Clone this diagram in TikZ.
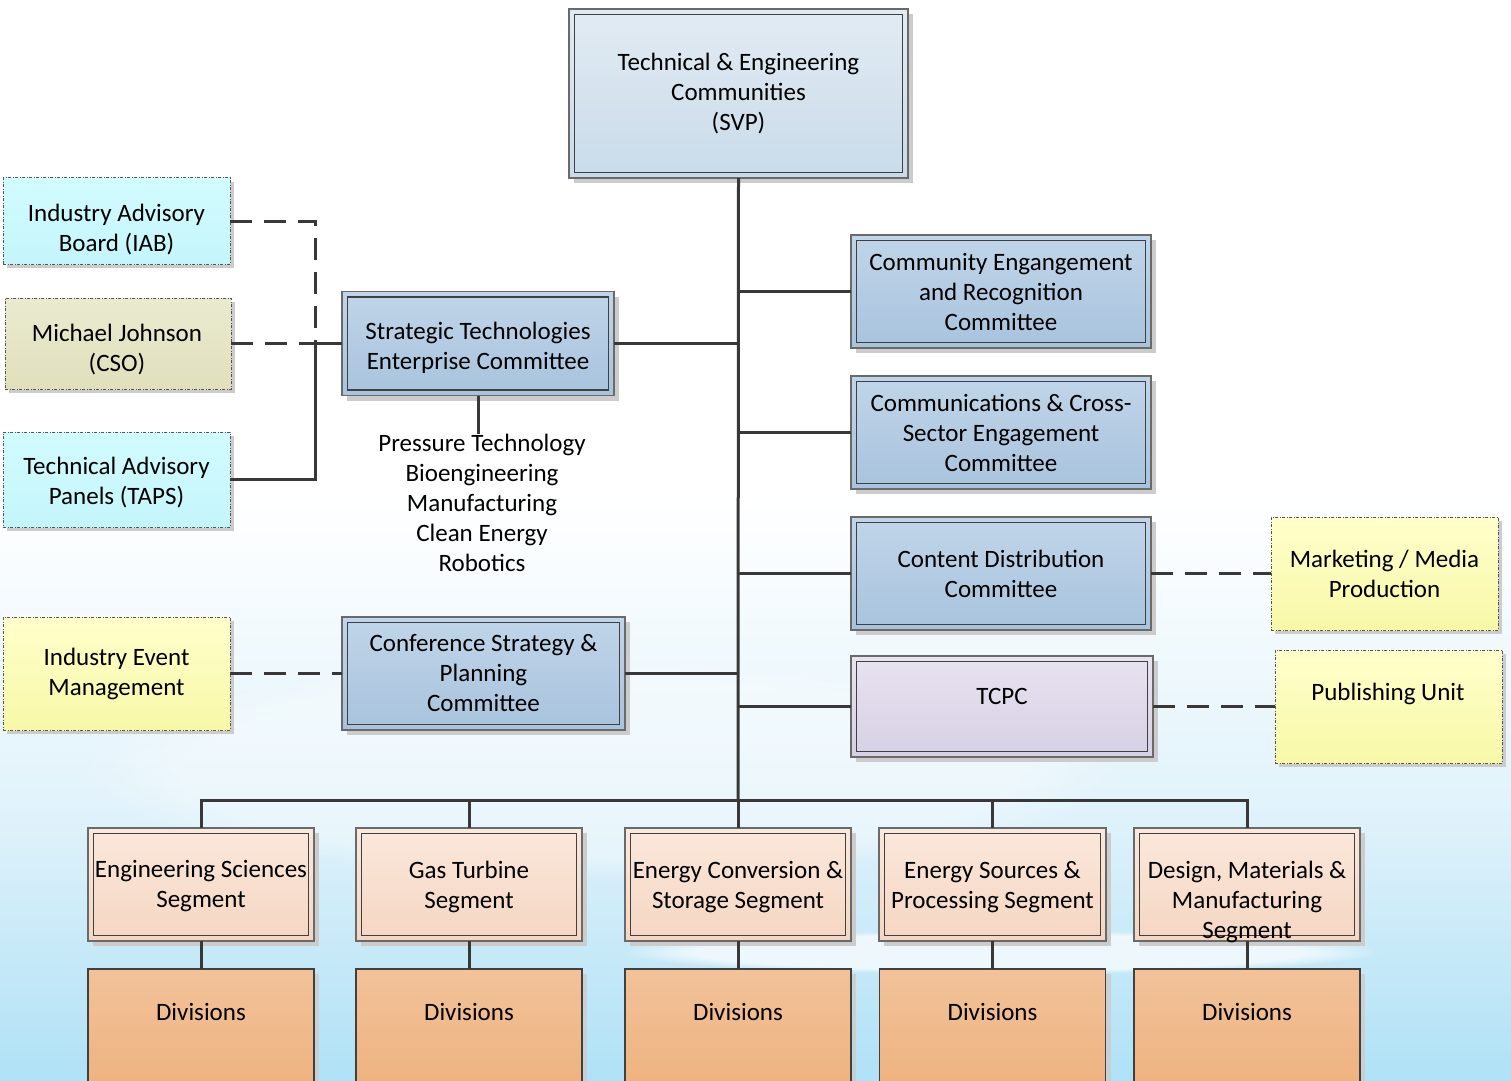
\documentclass[tikz,border=0pt]{standalone}
\usepackage{fontspec}
\setmainfont{Carlito}
\usetikzlibrary{shadows,fadings}
\definecolor{linec}{HTML}{383838}
\definecolor{outerc}{HTML}{6A6A6A}
\definecolor{innerc}{HTML}{404040}
\definecolor{shadowc}{HTML}{CCCCCC}
\definecolor{dashc}{HTML}{555555}
\definecolor{svpT}{HTML}{E2EBF3}
\definecolor{svpB}{HTML}{C9DBEA}
\definecolor{blueT}{HTML}{C0D5E9}
\definecolor{blueB}{HTML}{A8C3DD}
\definecolor{lavT}{HTML}{E8E3F0}
\definecolor{lavB}{HTML}{D6D0E5}
\definecolor{cyanT}{HTML}{D2FCFF}
\definecolor{cyanB}{HTML}{C4F5FB}
\definecolor{khakiT}{HTML}{EAEAD0}
\definecolor{khakiB}{HTML}{E0E0BC}
\definecolor{yelT}{HTML}{FFFFCC}
\definecolor{yelB}{HTML}{F8F8A8}
\definecolor{peachT}{HTML}{FBE8DC}
\definecolor{peachB}{HTML}{F5D6C2}
\definecolor{divT}{HTML}{F2C29A}
\definecolor{divB}{HTML}{EDAE78}
\definecolor{skyA}{HTML}{55C4F0}
\definecolor{skyB}{HTML}{9CDAF4}
\definecolor{skyC}{HTML}{E2F3FB}
\pgfdeclareverticalshading{sky}{100bp}{color(0bp)=(skyA); color(20bp)=(skyB); color(38bp)=(skyC); color(52bp)=(white); color(100bp)=(white)}
\begin{document}
\begin{tikzpicture}[x=0.5pt,y=-0.5pt,
  font=\fontsize{12.5}{15}\selectfont,
  conn/.style={draw=linec, line width=1.5pt},
  dconn/.style={conn, dash pattern=on 11pt off 6pt},
  sz/.style 2 args={minimum width=#1*0.5pt, minimum height=#2*0.5pt},
  base/.style={inner sep=0pt, outer sep=0pt, align=center},
  txt/.style={base},
  dblbox/.style={base, draw=outerc, line width=0.6pt,
    drop shadow={shadow xshift=2.5pt,shadow yshift=-2.5pt,fill=shadowc,opacity=1},
    path picture={\draw[draw=innerc, line width=0.8pt]
      ([shift={(2.8pt,-2.8pt)}]path picture bounding box.north west) rectangle
      ([shift={(-2.8pt,2.8pt)}]path picture bounding box.south east);}},
  svpbox/.style={dblbox, top color=svpT, bottom color=svpB},
  bluebox/.style={dblbox, top color=blueT, bottom color=blueB},
  lavbox/.style={dblbox, top color=lavT, bottom color=lavB},
  segbox/.style={dblbox, top color=peachT, bottom color=peachB},
  divbox/.style={base, draw=innerc, line width=0.7pt, top color=divT, bottom color=divB,
    drop shadow={shadow xshift=2.5pt,shadow yshift=-2.5pt,fill=shadowc,opacity=0.8}},
  dashbox/.style={base, draw=dashc, line width=0.5pt,
    dash pattern=on 1.5pt off 0.8pt on 0.4pt off 0.8pt,
    drop shadow={shadow xshift=2pt,shadow yshift=-2pt,fill=shadowc,opacity=1}},
  cyanbox/.style={dashbox, top color=cyanT, bottom color=cyanB},
  khakibox/.style={dashbox, top color=khakiT, bottom color=khakiB},
  yelbox/.style={dashbox, top color=yelT, bottom color=yelB}
]
\useasboundingbox (0,0) rectangle (1511,1081);
\clip (0,0) rectangle (1511,1081);
% background sky
\shade[shading=sky] (0,0) rectangle (1511,1081);
\fill[white, opacity=0.7, path fading=circle with fuzzy edge 20 percent] (1000,952) ellipse (380 and 22);
\fill[white, opacity=0.35, path fading=circle with fuzzy edge 20 percent] (600,770) ellipse (520 and 110);

% top
\node[svpbox, sz={339}{169}] (svp) at (738.5,93.5) {Technical \& Engineering\\Communities\\(SVP)};

% right committees
\node[bluebox, sz={300}{113}] (ce) at (1001,291.5) {Community Engangement\\and Recognition\\Committee};
\node[bluebox, sz={300}{113}] (comm) at (1001,432.5) {Communications \& Cross-\\Sector Engagement\\Committee};
\node[bluebox, sz={300}{113}] (cd) at (1001,573.5) {Content Distribution\\Committee};
\node[lavbox, sz={302}{101}] (tcpc) at (1002,706.5) {};
\node[txt] (tcpct) at (1002,696) {TCPC};

% left committees
\node[bluebox, sz={272}{104}] (ste) at (478,343.5) {};
\node[txt] (stet) at (478,348) {Strategic Technologies\\Enterprise Committee};
\node[txt] (tlist) at (482,503) {Pressure Technology\\Bioengineering\\Manufacturing\\Clean Energy\\Robotics};
\node[bluebox, sz={283}{113}] (conf) at (483.5,673.5) {Conference Strategy \&\\Planning\\Committee};

% left side boxes
\node[cyanbox, sz={227}{86}] (iab) at (116.5,221) {};
\node[txt] (iabt) at (116.5,230) {Industry Advisory\\Board (IAB)};
\node[khakibox, sz={226}{91}] (mj) at (118,343.5) {};
\node[txt] (mjt) at (117,349.5) {Michael Johnson\\(CSO)};
\node[cyanbox, sz={227}{95}] (taps) at (116.5,479.5) {};
\node[txt] (tapst) at (116.5,483) {Technical Advisory\\Panels (TAPS)};
\node[yelbox, sz={227}{113}] (iem) at (116.5,673.5) {Industry Event\\Management};

% right side boxes
\node[yelbox, sz={227}{113}] (mkt) at (1384.5,573.5) {Marketing / Media\\Production};
\node[yelbox, sz={227}{113}] (pub) at (1388.5,706.5) {};
\node[txt] (pubt) at (1388,694) {Publishing Unit};

% segments
\foreach \n/\x/\w in {1/201/226,2/469/226,3/738/226,4/992.5/227,5/1247/226}{
  \node[segbox, sz={\w}{113}] (seg\n) at (\x,884.5) {};
}
\node[txt] (seg1t) at (201,886.5) {Engineering Sciences\\Segment};
\node[txt] (seg2t) at (469,886.5) {Gas Turbine\\Segment};
\node[txt] (seg3t) at (738,887) {Energy Conversion \&\\Storage Segment};
\node[txt] (seg4t) at (992.5,887) {Energy Sources \&\\Processing Segment};

% divisions
\foreach \n/\x in {1/201,2/469,3/738,4/992.5,5/1247}{
  \node[divbox, sz={226}{150}, anchor=north] (div\n) at (\x,969) {};
  \node[txt] (div\n t) at (\x,1012) {Divisions};
}
\node[txt] (seg5t) at (1247,902) {Design, Materials \&\\Manufacturing\\Segment};

% connectors
\coordinate (bus) at (738,800);
\coordinate (lj) at (315,343.5);
\draw[conn] (svp.south) -- (bus);
\draw[conn] (ce.west) -- (ce.west -| bus);
\draw[conn] (comm.west) -- (comm.west -| bus);
\draw[conn] (cd.west) -- (cd.west -| bus);
\draw[conn] (tcpc.west) -- (tcpc.west -| bus);
\draw[conn] (ste.east) -- (ste.east -| bus);
\draw[conn] (conf.east) -- (conf.east -| bus);
\draw[conn] (ste.south) -- (ste.south |- tlist.north);
\draw[dconn] (iab.east) -| (lj);
\draw[dconn] (mj.east) -- (lj);
\draw[conn] (taps.east) -| (lj);
\draw[conn] (lj) -- (ste.west);
\draw[dconn] (iem.east) -- (conf.west);
\draw[dconn] (cd.east) -- (mkt.west);
\draw[dconn] (tcpc.east) -- (pub.west);
\draw[conn] (seg1.north) |- (bus) -| (seg5.north);
\draw[conn] (seg2.north) -- (seg2.north |- bus);
\draw[conn] (seg3.north) -- (bus);
\draw[conn] (seg4.north) -- (seg4.north |- bus);
\foreach \n in {1,...,5}{\draw[conn] (seg\n.south) -- (div\n.north);}
\end{tikzpicture}
\end{document}
